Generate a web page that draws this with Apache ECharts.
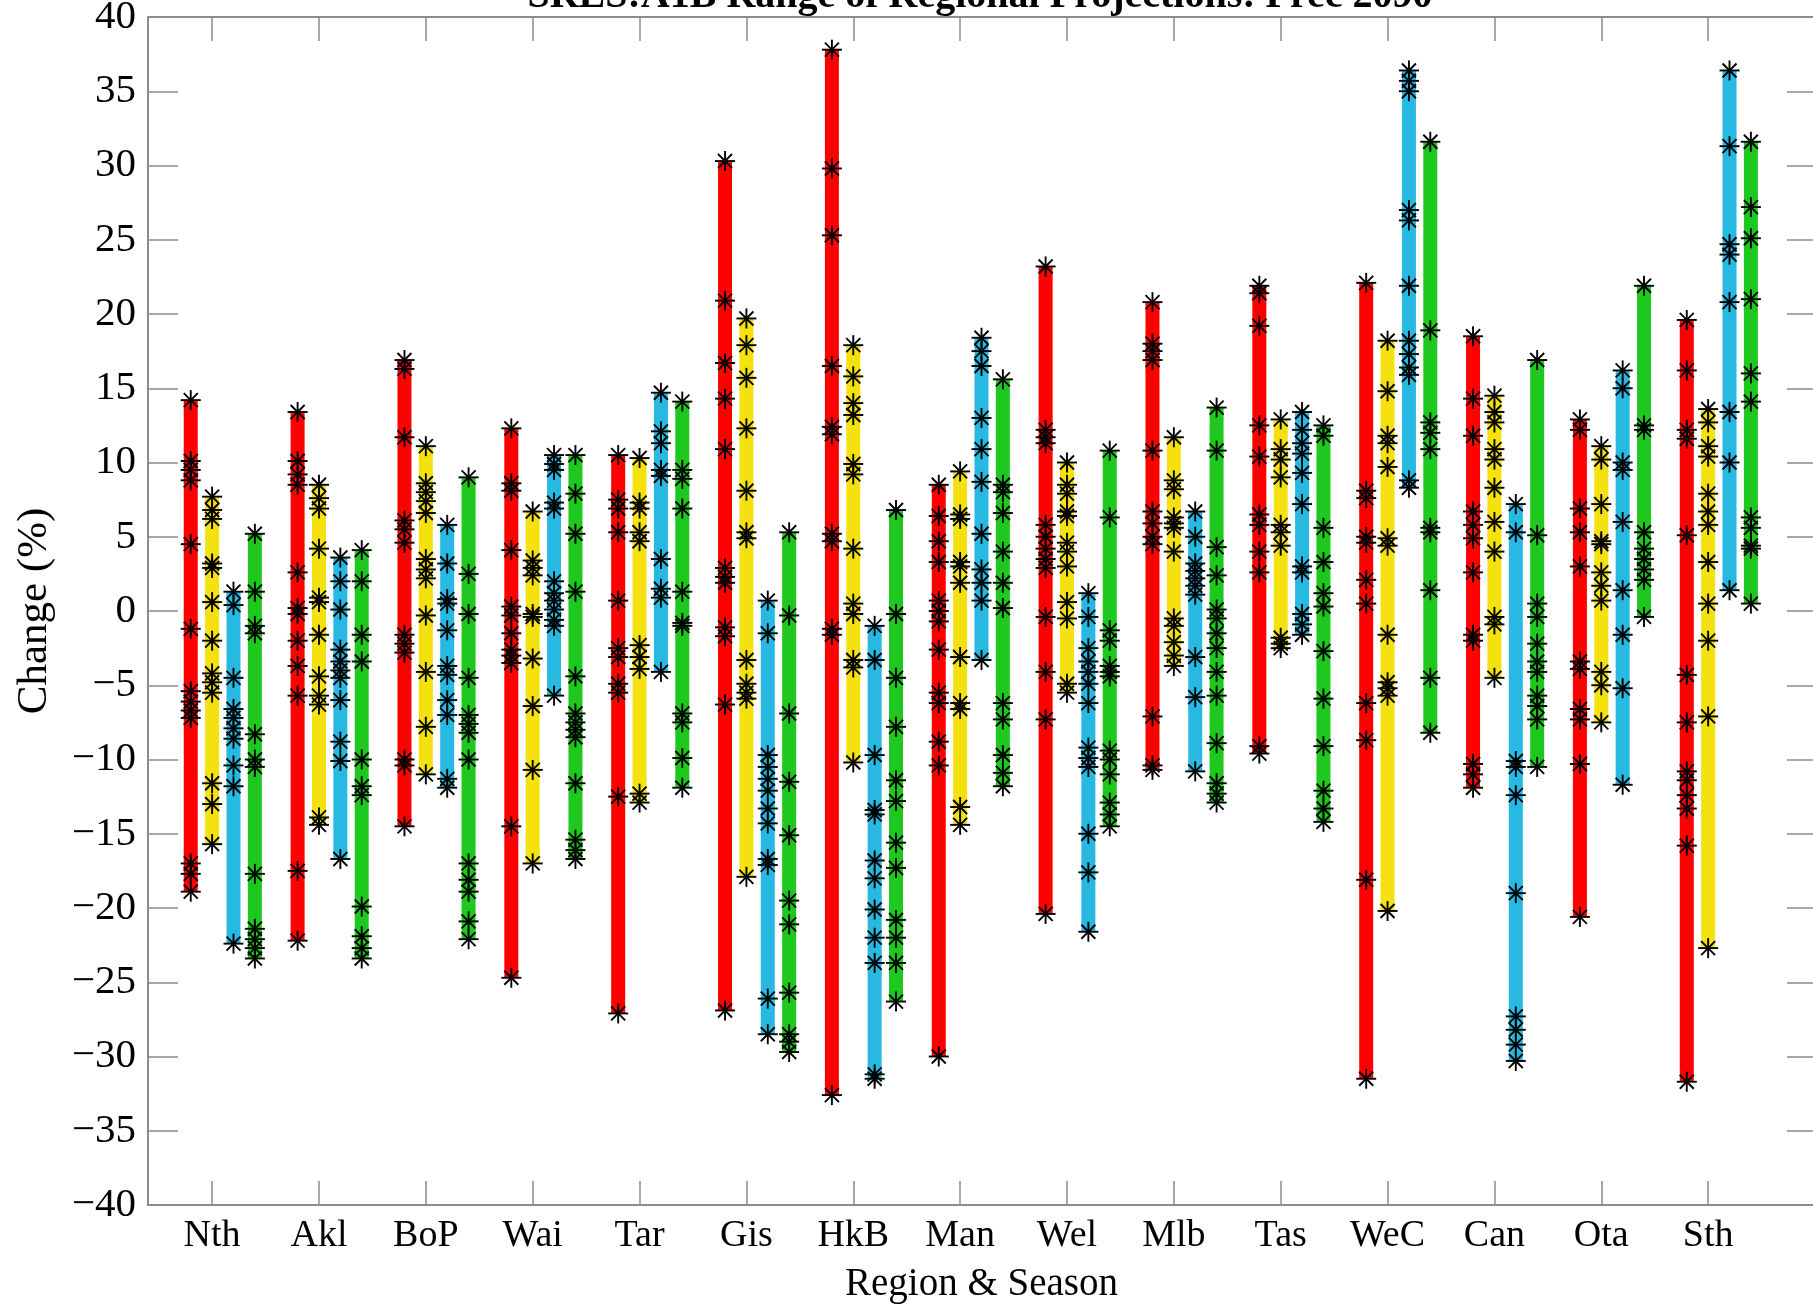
<!DOCTYPE html>
<html>
<head>
<meta charset="utf-8">
<title>SRES:A1B Range of Regional Projections</title>
<script src="https://cdn.jsdelivr.net/npm/echarts@6/dist/echarts.min.js"></script>
</head>
<body style="margin:0;overflow:hidden;background:#fff;">
<div id="main" style="width:1813px;height:1307px;"></div>
<script type="text/javascript">
// regions along the x axis
var regions = ['Nth', 'Akl', 'BoP', 'Wai', 'Tar', 'Gis', 'HkB', 'Man', 'Wel', 'Mlb', 'Tas', 'WeC', 'Can', 'Ota', 'Sth'];
var seasonColors = ['#ff0000', '#f5e10f', '#28b9e3', '#1ec81e'];
var seasonOffsets = [-0.2, 0, 0.2, 0.4];

// model projections (% change), one list per region
var summer = [
	[14.2, 10.1, 9.5, 8.8, 4.5, -1.2, -5.4, -6.1, -6.7, -7.2, -17.0, -17.7, -18.9],
	[13.4, 10.1, 9.2, 8.5, 2.6, 0.2, -0.2, -2.0, -3.7, -5.7, -17.5, -22.2],
	[16.9, 16.3, 11.7, 6.1, 5.5, 4.6, -1.6, -2.2, -2.8, -10.0, -10.4, -14.5],
	[12.3, 8.6, 8.1, 4.1, 0.3, -0.3, -1.5, -2.6, -3.0, -3.5, -14.5, -24.7],
	[10.5, 7.5, 6.9, 5.3, 0.7, -2.5, -3.1, -4.9, -5.5, -12.5, -27.1],
	[30.3, 20.9, 16.7, 14.3, 10.9, 2.9, 2.3, 1.9, -1.1, -1.7, -6.3, -26.9],
	[37.8, 29.8, 25.3, 16.5, 12.4, 11.9, 5.2, 4.7, -1.2, -1.6, -32.6],
	[8.5, 6.4, 4.7, 3.3, 0.7, 0.0, -0.7, -2.6, -5.5, -6.2, -8.8, -10.4, -30.0],
	[23.2, 12.2, 11.7, 11.3, 5.8, 5.0, 4.2, 3.5, 2.9, -0.4, -4.1, -7.3, -20.4],
	[20.8, 18.0, 17.5, 16.9, 10.8, 6.7, 5.9, 5.0, 4.5, -7.1, -10.4, -10.7],
	[21.9, 21.4, 19.2, 12.5, 10.4, 6.5, 5.8, 4.0, 2.6, -9.1, -9.6],
	[22.1, 8.1, 7.6, 5.0, 4.6, 2.1, 0.5, -6.2, -8.7, -18.1, -31.5],
	[18.5, 14.3, 11.8, 6.7, 5.8, 4.9, 2.6, -1.6, -2.0, -10.3, -11.0, -11.9],
	[12.9, 12.2, 6.9, 5.3, 3.0, -3.4, -3.9, -6.6, -7.3, -10.3, -20.6],
	[19.6, 16.2, 12.2, 11.6, 5.1, -4.3, -7.5, -10.8, -11.4, -12.4, -13.3, -15.8, -31.7]
];
var autumn = [
	[7.7, 6.8, 6.2, 3.2, 2.9, 0.6, -2.0, -4.2, -4.8, -5.5, -11.6, -13.0, -15.7],
	[8.5, 7.6, 6.9, 4.2, 0.9, 0.6, -1.6, -4.4, -5.7, -6.3, -13.9, -14.4],
	[11.1, 8.6, 8.0, 7.4, 6.6, 3.5, 2.8, 2.2, -0.3, -4.1, -7.8, -11.0],
	[6.7, 3.4, 2.9, 2.4, -0.2, -0.4, -3.2, -6.4, -10.7, -17.0],
	[10.3, 7.3, 6.9, 5.3, 4.7, -2.3, -3.1, -3.9, -12.3, -12.9],
	[19.7, 17.9, 15.7, 12.3, 8.1, 5.3, 4.9, -3.3, -4.9, -5.5, -5.9, -17.9],
	[17.9, 15.8, 14.0, 13.2, 9.9, 9.2, 4.2, 0.5, -0.2, -3.3, -3.8, -10.2],
	[9.4, 6.5, 6.2, 3.3, 3.0, 1.9, -3.1, -6.2, -6.6, -13.2, -14.4],
	[10.0, 8.5, 7.9, 6.7, 6.4, 4.6, 4.0, 3.0, 0.6, -0.5, -4.9, -5.5],
	[11.7, 8.8, 8.2, 6.3, 5.9, 5.6, 4.0, -0.5, -1.0, -2.1, -3.0, -3.7],
	[12.9, 10.9, 10.2, 9.0, 5.8, 5.3, 4.4, -1.8, -2.2, -2.5],
	[18.2, 14.8, 11.8, 11.3, 9.7, 4.9, 4.4, -1.6, -4.8, -5.2, -5.7, -20.2],
	[14.5, 13.4, 12.7, 10.9, 10.2, 8.3, 6.0, 4.0, -0.4, -0.9, -4.5],
	[11.1, 10.2, 7.2, 4.7, 4.5, 2.6, 1.7, 0.7, -4.1, -5.0, -7.5],
	[13.6, 12.7, 11.1, 10.4, 7.9, 6.7, 5.8, 3.3, 0.5, -2.0, -7.1, -22.7]
];
var winter = [
	[1.3, 0.4, -4.5, -6.6, -7.2, -7.9, -8.6, -10.4, -11.8, -22.4],
	[3.6, 2.0, 0.1, -2.6, -3.4, -4.0, -4.5, -6.0, -8.8, -10.1, -16.7],
	[5.8, 3.2, 0.8, 0.5, -1.3, -3.7, -4.3, -6.0, -7.0, -11.3, -11.9],
	[10.5, 9.9, 9.5, 7.3, 6.9, 2.0, 1.2, 0.7, 0.1, -0.6, -1.0, -5.7],
	[14.7, 12.1, 11.3, 9.5, 9.1, 3.5, 1.5, 0.9, -4.1],
	[0.7, -1.5, -9.7, -10.5, -11.3, -12.1, -13.3, -14.3, -16.7, -17.1, -26.1, -28.5],
	[-1.0, -3.3, -9.7, -13.4, -13.7, -16.8, -18.0, -20.1, -22.0, -23.7, -31.2, -31.5],
	[18.4, 17.5, 16.5, 13.0, 10.9, 8.7, 5.2, 2.8, 1.9, 0.7, -3.3],
	[1.2, -0.4, -2.5, -3.4, -4.1, -4.9, -6.2, -9.2, -9.9, -10.5, -15.0, -17.6, -21.6],
	[6.7, 5.0, 3.2, 2.7, 2.2, 1.7, 1.1, -3.1, -5.8, -10.8],
	[13.4, 12.2, 11.3, 10.6, 9.3, 7.2, 3.0, 2.6, -0.2, -0.9, -1.6],
	[36.4, 35.7, 35.0, 27.0, 26.3, 21.9, 18.2, 17.3, 16.4, 15.9, 8.8, 8.3],
	[7.2, 5.3, -10.1, -10.5, -12.4, -19.0, -27.3, -28.2, -29.2, -30.3],
	[16.2, 15.0, 10.0, 9.5, 6.0, 1.4, -1.6, -5.2, -11.7],
	[36.4, 31.3, 24.7, 24.0, 20.8, 13.4, 10.0, 1.4]
];
var spring = [
	[5.2, 1.3, -1.0, -1.5, -8.3, -10.0, -10.5, -17.7, -21.4, -22.1, -22.7, -23.4],
	[4.1, 2.0, -1.6, -3.4, -10.0, -11.8, -12.4, -19.9, -21.9, -22.7, -23.4],
	[9.0, 2.5, -0.2, -4.5, -7.0, -7.6, -8.2, -10.0, -17.0, -18.1, -18.9, -20.9, -22.1],
	[10.5, 7.9, 5.2, 1.3, -4.4, -6.9, -7.5, -8.0, -8.5, -11.6, -15.4, -16.1, -16.7],
	[14.1, 9.5, 8.9, 6.9, 1.3, -0.8, -1.0, -6.9, -7.5, -9.9, -11.9],
	[5.3, -0.3, -6.9, -11.5, -15.1, -19.5, -21.1, -25.7, -28.5, -29.0, -29.7],
	[6.8, -0.2, -4.5, -7.8, -11.4, -12.8, -15.6, -17.3, -20.8, -22.0, -23.7, -26.3],
	[15.6, 8.5, 8.0, 6.6, 4.0, 1.9, 0.2, -6.2, -7.3, -9.7, -10.9, -11.8],
	[10.8, 6.3, -1.3, -2.0, -3.7, -4.1, -4.4, -9.4, -10.0, -11.0, -12.9, -13.7, -14.5],
	[13.7, 10.8, 4.3, 2.4, 0.1, -0.5, -1.5, -2.5, -4.1, -5.7, -8.9, -11.6, -12.3, -12.9],
	[12.5, 11.8, 5.6, 3.3, 1.2, 0.3, -2.7, -5.9, -9.1, -12.1, -13.3, -14.2],
	[31.6, 18.9, 12.7, 12.0, 10.9, 5.6, 5.3, 1.4, -4.5, -8.2],
	[16.9, 5.1, 0.5, -0.4, -2.2, -3.4, -4.1, -5.7, -6.4, -7.3, -10.5],
	[21.9, 12.5, 12.2, 5.3, 4.2, 3.5, 2.8, 2.1, -0.4],
	[31.6, 27.2, 25.1, 21.0, 16.0, 14.1, 6.3, 5.6, 4.4, 4.2, 0.5]
];

var font = 'Liberation Serif';
var axisGray = '#8c8c8c';
var tickValues = regions.map(function (r, i) { return i + 1; });

// thick coloured bar from min to max
function renderRange(params, api) {
	var top = api.coord([api.value(0), api.value(2)]);
	var bottom = api.coord([api.value(0), api.value(1)]);
	var w = 14;
	return {
		type: 'rect',
		shape: { x: top[0] - w / 2, y: top[1], width: w, height: bottom[1] - top[1] },
		style: { fill: api.visual('color') }
	};
}

// asterisk marker for each model value
function renderStar(params, api) {
	var p = api.coord([api.value(0), api.value(1)]);
	var r = 10, d = 7;
	var st = { stroke: '#000', lineWidth: 1.9 };
	return {
		type: 'group',
		children: [
			{ type: 'line', shape: { x1: p[0] - r, y1: p[1], x2: p[0] + r, y2: p[1] }, style: st },
			{ type: 'line', shape: { x1: p[0], y1: p[1] - r, x2: p[0], y2: p[1] + r }, style: st },
			{ type: 'line', shape: { x1: p[0] - d, y1: p[1] - d, x2: p[0] + d, y2: p[1] + d }, style: st },
			{ type: 'line', shape: { x1: p[0] - d, y1: p[1] + d, x2: p[0] + d, y2: p[1] - d }, style: st }
		]
	};
}

var seasons = [summer, autumn, winter, spring];
var series = [];
seasons.forEach(function (vals, s) {
	var rangeData = [], starData = [];
	vals.forEach(function (list, i) {
		var x = i + 1 + seasonOffsets[s];
		rangeData.push([x, Math.min.apply(null, list), Math.max.apply(null, list)]);
		list.forEach(function (v) { starData.push([x, v]); });
	});
	series.push({
		type: 'custom', renderItem: renderRange, data: rangeData,
		encode: { x: 0, y: [1, 2] }, itemStyle: { color: seasonColors[s] },
		z: 2, silent: true, animation: false
	});
	series.push({
		type: 'custom', renderItem: renderStar, data: starData,
		encode: { x: 0, y: 1 }, z: 3, silent: true, animation: false
	});
});

var myChart = echarts.init(document.getElementById('main'));
var option = {
	backgroundColor: '#fff',
	animation: false,
	grid: { left: 148, right: -2, top: 17, bottom: 102, outerBoundsMode: 'none' },
	graphic: [{
		type: 'text', x: 980, y: -3,
		style: {
			text: 'SRES:A1B Range of Regional Projections: Prec 2090',
			fontFamily: font, fontSize: 40, fontWeight: 'bold', fill: '#000',
			align: 'center', verticalAlign: 'middle'
		}
	}],
	xAxis: [{
		type: 'value', min: 0.4, max: 16, position: 'bottom',
		axisLine: { show: true, onZero: false, lineStyle: { color: axisGray, width: 2 } },
		axisTick: { show: true, inside: true, length: 24, customValues: tickValues, lineStyle: { color: axisGray, width: 1.5 } },
		axisLabel: {
			customValues: tickValues, margin: 12, color: '#000', fontFamily: font, fontSize: 38,
			formatter: function (v) { return regions[Math.round(v) - 1]; }
		},
		splitLine: { show: false },
		name: 'Region & Season', nameLocation: 'middle', nameGap: 60,
		nameTextStyle: { color: '#000', fontFamily: font, fontSize: 39 }
	}, {
		type: 'value', min: 0.4, max: 16, position: 'top',
		axisLine: { show: true, onZero: false, lineStyle: { color: axisGray, width: 2 } },
		axisTick: { show: true, inside: true, length: 24, customValues: tickValues, lineStyle: { color: axisGray, width: 1.5 } },
		axisLabel: { show: false },
		splitLine: { show: false }
	}],
	yAxis: [{
		type: 'value', min: -40, max: 40, interval: 5, position: 'left',
		axisLine: { show: true, onZero: false, lineStyle: { color: axisGray, width: 2 } },
		axisTick: { show: true, inside: true, length: 30, lineStyle: { color: axisGray, width: 1.5 } },
		axisLabel: {
			margin: 12, color: '#000', fontFamily: font, fontSize: 41,
			formatter: function (v) { return String(v).replace('-', '\u2212'); }
		},
		splitLine: { show: false },
		name: 'Change (%)', nameLocation: 'middle', nameGap: 92, nameRotate: 90,
		nameTextStyle: { color: '#000', fontFamily: font, fontSize: 43 }
	}, {
		type: 'value', min: -40, max: 40, interval: 5, position: 'right',
		axisLine: { show: true, onZero: false, lineStyle: { color: axisGray, width: 2 } },
		axisTick: { show: true, inside: true, length: 28, lineStyle: { color: axisGray, width: 1.5 } },
		axisLabel: { show: false },
		splitLine: { show: false }
	}],
	series: series
};
myChart.setOption(option);
</script>
</body>
</html>
